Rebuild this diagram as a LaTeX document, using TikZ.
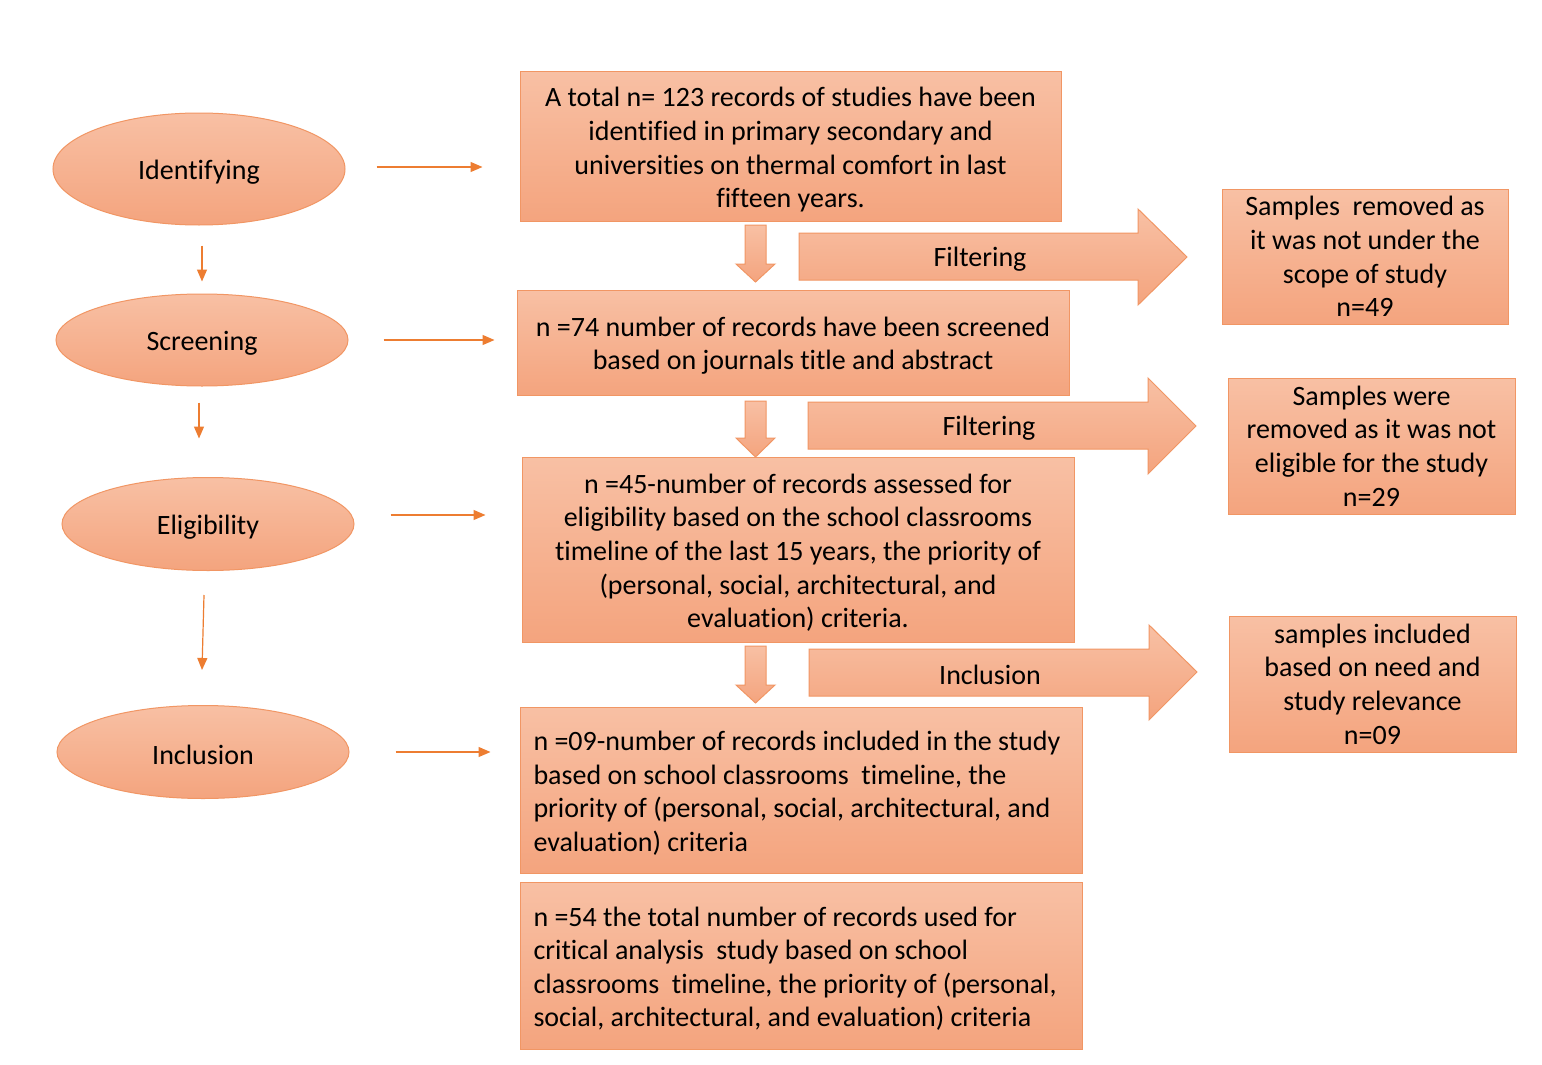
\documentclass[tikz,border=0pt]{standalone}
\usepackage{fontspec}
\setmainfont{Carlito}[Ligatures=NoCommon]
\usetikzlibrary{shapes.geometric,arrows.meta}
\definecolor{peachtop}{RGB}{248,192,164}
\definecolor{peachbot}{RGB}{244,164,126}
\definecolor{peachline}{RGB}{241,150,100}
\definecolor{arrowor}{RGB}{237,125,49}
\newcommand{\topstrut}{\rule{0pt}{26pt}}
\begin{document}
\begin{tikzpicture}[x=1pt,y=-1pt,
  font=\fontsize{28}{33.6}\selectfont,
  peach/.style={draw=peachline, line width=1pt, top color=peachtop, bottom color=peachbot},
  stage/.style={peach, ellipse, inner sep=0pt, execute at begin node=\topstrut},
  recbox/.style={peach, rectangle, inner sep=0pt, align=center},
  leftbox/.style={peach, rectangle, inner xsep=13.5pt, inner ysep=0pt, align=flush left, text width=535pt, execute at begin node=\topstrut},
  conn/.style={draw=arrowor, line width=1.2pt, -{Triangle[length=12pt,width=10pt]}},
  lbl/.style={inner sep=0pt}
]
\useasboundingbox[fill=white] (0,0) rectangle (1542,1065);

% stages
\node[stage, minimum width=292pt, minimum height=112pt] (e1) at (199,169) {Identifying};
\node[stage, minimum width=292pt, minimum height=92pt] (e2) at (202,340) {Screening};
\node[stage, minimum width=292pt, minimum height=93pt] (e3) at (208,524) {Eligibility};
\node[stage, minimum width=292pt, minimum height=93pt] (e4) at (203,752) {Inclusion};

% main boxes
\node[recbox, minimum width=541pt, minimum height=149pt] (b1) at (790.5,146.5)
  {\topstrut A total n= 123 records of studies have been\\identified in primary secondary and\\universities on thermal comfort in last\\fifteen years.};
\node[recbox, minimum width=552pt, minimum height=105pt] (b2) at (793,342.5)
  {\topstrut n =74 number of records have been screened\\based on journals title and abstract};
\node[recbox, minimum width=552pt, minimum height=185pt] (b3) at (798,549.5)
  {\topstrut n =45-number of records assessed for\\eligibility based on the school classrooms\\timeline of the last 15 years, the priority of\\(personal, social, architectural, and\\evaluation) criteria.};
\node[leftbox, minimum height=166pt] (b4) at (801,790)
  {n =09-number of records included in the study\\based on school classrooms\ \ timeline, the\\priority of (personal, social, architectural, and\\evaluation) criteria};
\node[leftbox, minimum height=167pt] (b5) at (801,965.5)
  {n =54 the total number of records used for\\critical analysis\ \ study based on school\\classrooms\ \ timeline, the priority of (personal,\\social, architectural, and evaluation) criteria};

% side boxes
\node[recbox, minimum width=286pt, minimum height=135pt] (s1) at (1365,256.5)
  {Samples\ \ removed as\\it was not under the\\scope of study\\n=49};
\node[recbox, minimum width=287pt, minimum height=136pt] (s2) at (1371.5,446)
  {Samples were\\removed as it was not\\eligible for the study\\n=29};
\node[recbox, minimum width=287pt, minimum height=136pt] (s3) at (1372.5,684)
  {samples included\\based on need and\\study relevance\\n=09};

% block arrows right
\path[peach] (799,233) -- (1138,233) -- (1138,209) -- (1187,257) -- (1138,305) -- (1138,280) -- (799,280) -- cycle;
\node[lbl] (f1) at (980,259) {Filtering};
\path[peach] (808,402) -- (1148,402) -- (1148,378) -- (1196,426) -- (1148,474) -- (1148,449) -- (808,449) -- cycle;
\node[lbl] (f2) at (989,428) {Filtering};
\path[peach] (809,649) -- (1149,649) -- (1149,625) -- (1197,672) -- (1149,720) -- (1149,696) -- (809,696) -- cycle;
\node[lbl] (f3) at (990,675) {Inclusion};

% block arrows down
\path[peach] (745,225) -- (766,225) -- (766,264) -- (775,264) -- (755.5,282) -- (736,264) -- (745,264) -- cycle;
\path[peach] (745,401) -- (766,401) -- (766,438) -- (775,438) -- (755.5,457) -- (736,438) -- (745,438) -- cycle;
\path[peach] (745,646) -- (766,646) -- (766,685) -- (775,685) -- (755.5,703) -- (736,685) -- (745,685) -- cycle;

% thin arrows
\draw[conn] ([xshift=31pt,yshift=2pt]e1.east) -- ++(106,0);
\draw[conn] ([xshift=35pt]e2.east) -- ++(111,0);
\draw[conn] ([xshift=36pt,yshift=9pt]e3.east) -- ++(95,0);
\draw[conn] ([xshift=46pt]e4.east) -- ++(95,0);

\draw[conn] ([xshift=3pt,yshift=-20pt]e1.south) -- ++(0,36);
\draw[conn] ([xshift=-3pt,yshift=-16pt]e2.south) -- ++(0,36);
\draw[conn] ([xshift=-4pt,yshift=-24pt]e3.south) -- ++(-2,75);
\end{tikzpicture}
\end{document}
